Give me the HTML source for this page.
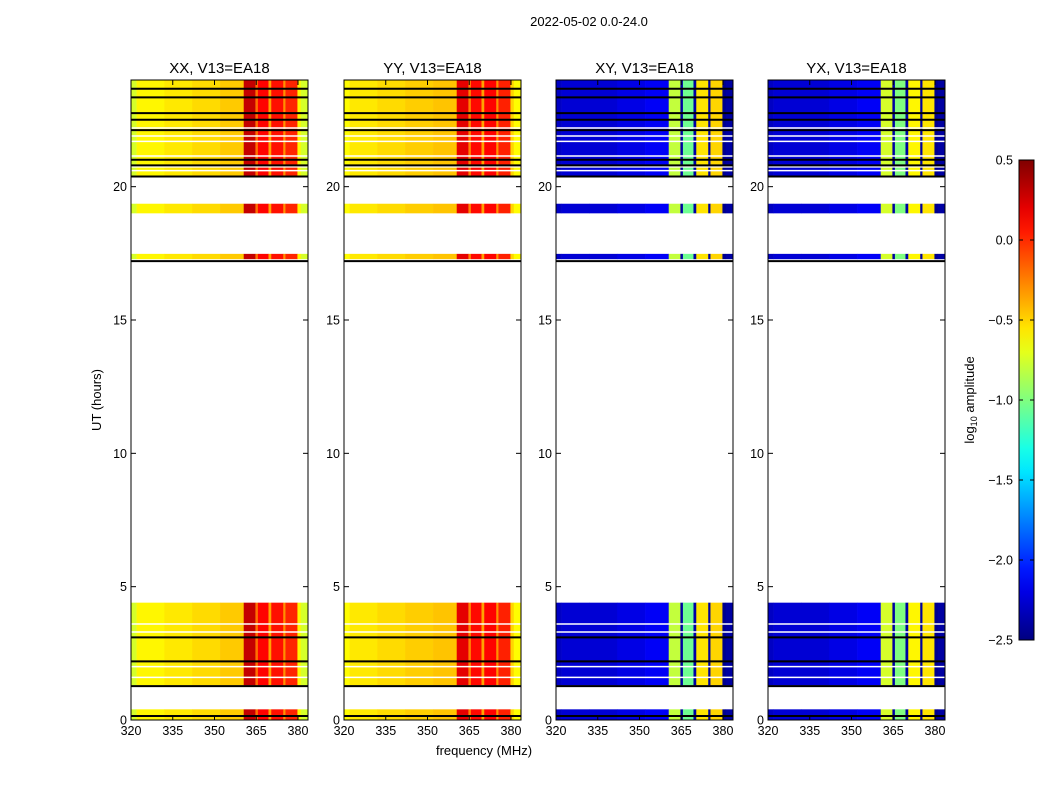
<!DOCTYPE html>
<html><head><meta charset="utf-8"><style>
body{margin:0;background:#fff;width:1050px;height:800px;overflow:hidden}
svg text{font-family:"Liberation Sans",sans-serif;fill:#000}
</style></head><body>
<svg id="fig" width="1050" height="800" xmlns="http://www.w3.org/2000/svg">
<text x="589" y="26" font-size="13" text-anchor="middle">2022-05-02 0.0-24.0</text>
<text x="484" y="755" font-size="13" text-anchor="middle">frequency (MHz)</text>
<text x="0" y="0" font-size="13" text-anchor="middle" transform="translate(101,400) rotate(-90)">UT (hours)</text>
<g id="panels"></g>
<g id="cbar"></g>
</svg>
<script>
const panelTitles=["XX, V13=EA18","YY, V13=EA18","XY, V13=EA18","YX, V13=EA18"];
const bandStart=[320,322,332,342,352,360.5,364.7,365.6,369.4,370.4,374.7,375.5,379.8,381];
const bandEnd  =[322,332,342,352,360.5,364.7,365.6,369.4,370.4,374.7,375.5,379.8,381,384];
const valsXX=[-0.75,-0.6,-0.56,-0.52,-0.47,0.3,-0.2,0.12,-0.35,0.08,-0.3,0.02,-0.6,-0.75];
const valsYY=[-0.62,-0.56,-0.52,-0.48,-0.45,0.2,-0.25,0.1,-0.35,0.12,-0.3,0.03,-0.5,-0.62];
const valsXY=[-2.3,-2.25,-2.25,-2.2,-2.15,-0.8,-2.4,-1.05,-2.4,-0.55,-2.4,-0.5,-2.45,-2.4];
const valsYX=[-2.3,-2.25,-2.25,-2.2,-2.15,-0.75,-2.4,-1.0,-2.4,-0.6,-2.4,-0.55,-2.45,-2.4];
const segStart=[0,1.3,17.28,19.0,20.4];
const segEnd=[0.4,4.4,17.48,19.36,24];
const blackLines=[0.15,1.27,2.2,3.1,17.21,20.38,20.8,21.01,22.12,22.51,22.76,23.35,23.67];
const whiteLines=[1.6,2.0,3.3,3.6,20.6,20.74,21.15,21.7,21.9,22.2];
const xTicks=[320,335,350,365,380];
const yTicks=[0,5,10,15,20];
const cbTicks=[0.5,0.0,-0.5,-1.0,-1.5,-2.0,-2.5];
const cbLabels=["0.5","0.0","\u22120.5","\u22121.0","\u22121.5","\u22122.0","\u22122.5"];
const allVals=[valsXX,valsYY,valsXY,valsYX];
const panelX=[131,344,556,768], PW=177, PT=80, PB=720;
const NS="http://www.w3.org/2000/svg";
function el(t,a,p){const e=document.createElementNS(NS,t);for(const k in a)e.setAttribute(k,a[k]);p.appendChild(e);return e;}
function jet(v){const vmin=-2.5,vmax=0.5;let t=(v-vmin)/(vmax-vmin);t=Math.max(0,Math.min(1,t));
 const f=x=>Math.round(255*Math.max(0,Math.min(1,x)));
 return `rgb(${f(1.5-Math.abs(4*t-3))},${f(1.5-Math.abs(4*t-2))},${f(1.5-Math.abs(4*t-1))})`;}
const yS=h=>PB-(h/24)*(PB-PT);
const G=document.getElementById('panels');
allVals.forEach((vals,p)=>{
 const x0=panelX[p];const xS=f=>x0+(f-320)*(PW/63.6);
 const g=el('g',{},G);
 
 
 segStart.forEach((s,i)=>{vals.forEach((v,b)=>{
  const xa=xS(bandStart[b]),xb=Math.min(xS(bandEnd[b]),x0+PW);
  const r=el('rect',{x:xa,y:yS(segEnd[i]),width:xb-xa+0.3,height:yS(segStart[i])-yS(segEnd[i]),fill:jet(v)},g);
  
  
 });});
 whiteLines.forEach(h=>{const l=el('line',{x1:x0,x2:x0+PW,y1:yS(h),y2:yS(h),stroke:'#fff','stroke-width':1.5},g);
  });
 blackLines.forEach(h=>{const l=el('line',{x1:x0,x2:x0+PW,y1:yS(h),y2:yS(h),stroke:'#000','stroke-width':2},g);
  });
 const fr=el('rect',{x:x0,y:PT,width:PW,height:PB-PT,fill:'none',stroke:'#000','stroke-width':1},g);
 
 const tt=el('text',{x:x0+PW/2,y:73,'font-size':15,'text-anchor':'middle'},g);tt.textContent=panelTitles[p];
 
 xTicks.forEach(f=>{const x=xS(f);
  el('line',{x1:x,x2:x,y1:PB,y2:PB-5,stroke:'#000'},g);el('line',{x1:x,x2:x,y1:PT,y2:PT+5,stroke:'#000'},g);
  const t=el('text',{x:x,y:PB+15,'font-size':12.5,'text-anchor':'middle'},g);t.textContent=f;
  });
 yTicks.forEach(h=>{const y=yS(h);
  el('line',{x1:x0,x2:x0+5,y1:y,y2:y,stroke:'#000'},g);el('line',{x1:x0+PW,x2:x0+PW-5,y1:y,y2:y,stroke:'#000'},g);
  const t=el('text',{x:x0-4,y:y+4.5,'font-size':12.5,'text-anchor':'end'},g);t.textContent=h;
  });
});
const C=document.getElementById('cbar');const cx=1019,cw=15,cT=160,cB=640;
const defs=el('defs',{},C);const lg=el('linearGradient',{id:'jg',x1:0,y1:1,x2:0,y2:0},defs);
for(let i=0;i<=20;i++){const v=-2.5+3*i/20;el('stop',{offset:i/20,'stop-color':jet(v)},lg);}
el('rect',{x:cx,y:cT,width:cw,height:cB-cT,fill:'url(#jg)',stroke:'#000'},C);
const cyS=v=>cB-(v+2.5)/3*(cB-cT);
cbTicks.forEach((v,i)=>{const y=cyS(v);
 el('line',{x1:cx,x2:cx+4,y1:y,y2:y,stroke:'#000'},C);el('line',{x1:cx+cw,x2:cx+cw-4,y1:y,y2:y,stroke:'#000'},C);
 const t=el('text',{x:cx-6,y:y+4.5,'font-size':12.5,'text-anchor':'end'},C);t.textContent=cbLabels[i];
 });
const cl=el('text',{'font-size':13,'text-anchor':'middle',transform:'translate(974,400) rotate(-90)'},C);
cl.innerHTML='log<tspan font-size="9" dy="3">10</tspan><tspan dy="-3"> amplitude</tspan>';

</script>
</body></html>
